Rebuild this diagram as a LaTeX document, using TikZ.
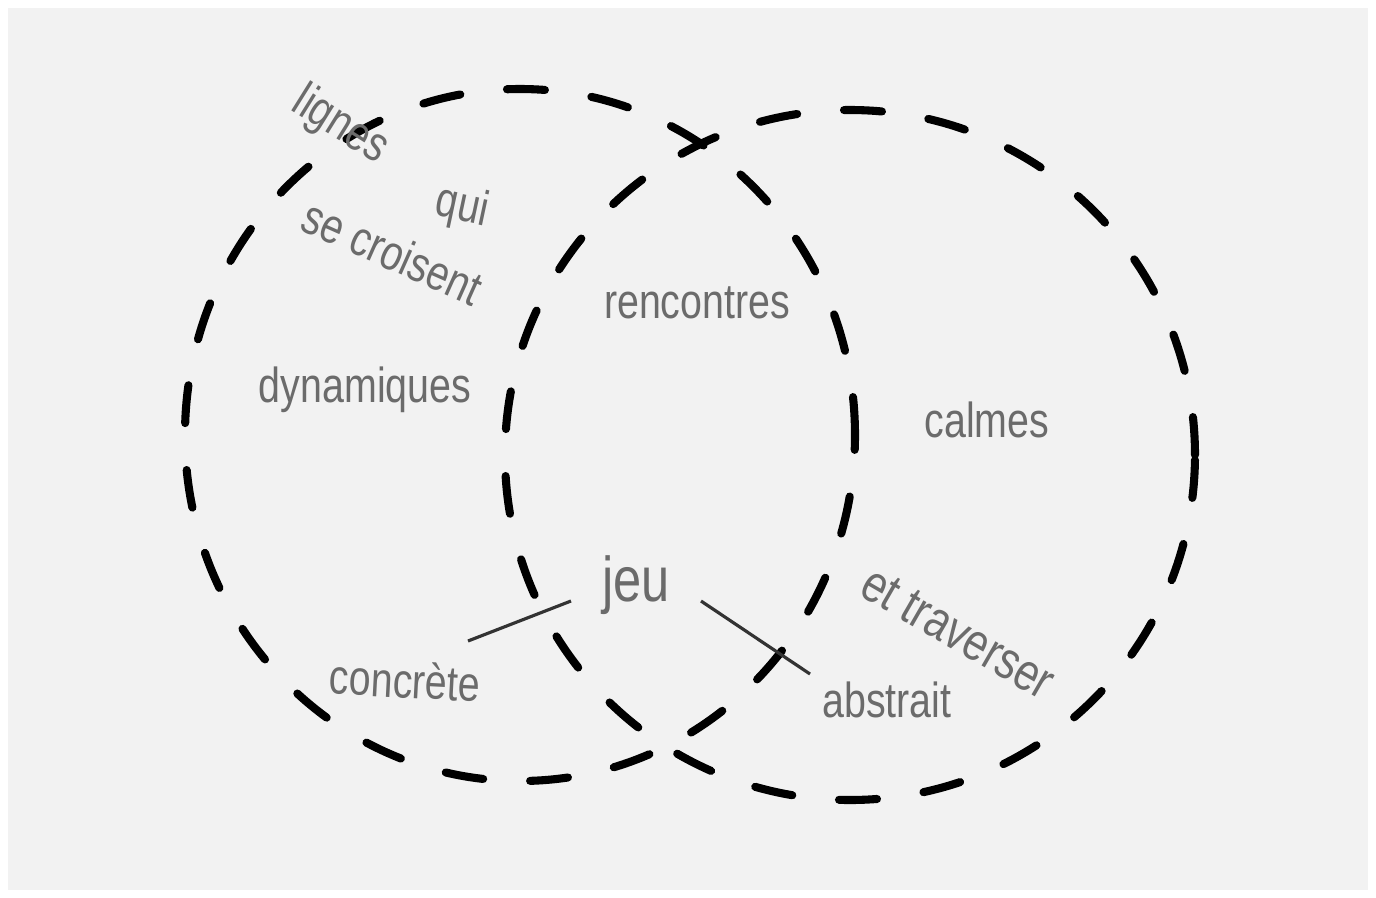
\documentclass[tikz,border=0pt]{standalone}
\usepackage{fontspec}
\newfontfamily\handfont[FakeStretch=0.8]{Liberation Sans}
\begin{document}
\begin{tikzpicture}[
    venn/.style={line width=2.3pt, black, dash pattern=on 0.38cm off 0.47cm, line cap=round},
    mot/.style={font=\handfont\fontsize{14}{16}\selectfont, text=black!58, inner sep=1pt},
    trait/.style={line width=0.9pt, black!80}]
    \useasboundingbox (0,0) rectangle (13.76,-8.97);
    \fill[white] (0,0) rectangle (13.76,-8.97);
    \fill[black!5] (0.08,-0.08) rectangle (13.68,-8.90);

    % the two circles
    \draw[venn] (5.20,-4.35) ellipse (3.35cm and 3.46cm);
    \draw[venn] (8.50,-4.55) ellipse (3.45cm and 3.45cm);

    % words
    \node[mot, rotate=-32] (lignes) at (3.40,-1.26) {lignes};
    \node[mot, rotate=-12] (qui) at (4.62,-2.08) {qui};
    \node[mot, rotate=-24] (croisent) at (3.93,-2.52) {se croisent};
    \node[mot] (rencontres) at (6.97,-3.03) {rencontres};
    \node[mot] (dynamiques) at (3.65,-3.90) {dynamiques};
    \node[mot] (calmes) at (9.87,-4.20) {calmes};
    \node[mot, font=\handfont\fontsize{18}{20}\selectfont] (jeu) at (6.36,-5.85) {jeu};
    \node[mot, rotate=-30, font=\handfont\fontsize{15}{17}\selectfont] (traverser) at (9.58,-6.33) {et traverser};
    \node[mot, rotate=-3] (concrete) at (4.05,-6.80) {concrète};
    \node[mot] (abstrait) at (8.87,-7.00) {abstrait};

    % links to jeu
    \coordinate (c1) at (4.68,-6.41);
    \coordinate (c2) at (5.71,-6.01);
    \coordinate (a1) at (7.01,-6.01);
    \coordinate (a2) at (8.10,-6.74);
    \draw[trait] (c1) -- (c2);
    \draw[trait] (a1) -- (a2);
\end{tikzpicture}
\end{document}
